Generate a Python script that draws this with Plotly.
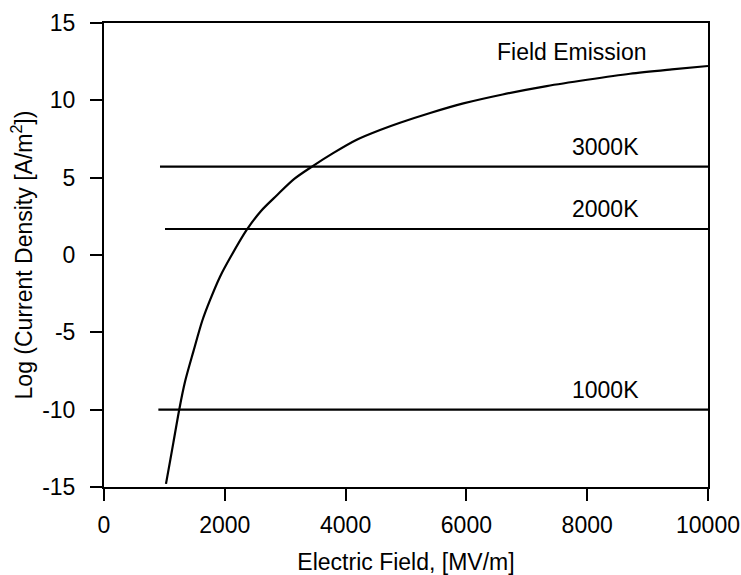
import plotly.graph_objects as go

# Field emission curve
fe_x = [1026, 1100, 1150, 1247, 1341, 1479, 1627, 1755, 1921, 2100, 2362, 2600, 2859, 3150, 3449,
        3800, 4184, 4570, 4901, 5400, 5949, 6600, 7329, 8000, 8709, 9400, 10000]
fe_y = [-14.8, -13.2, -12.1, -9.97, -8.2, -6.25, -4.25, -2.92, -1.4, -0.1, 1.62, 2.85, 3.85, 4.92, 5.73,
        6.6, 7.45, 8.08, 8.55, 9.18, 9.8, 10.38, 10.92, 11.33, 11.72, 12.0, 12.22]

# Thermionic emission levels
temps = ["3000K", "2000K", "1000K"]
t_start = [927, 1010, 900]
t_end = [10000, 10000, 10000]
t_level = [5.72, 1.68, -10.0]

x_ticks = [0, 2000, 4000, 6000, 8000, 10000]
y_ticks = [-15, -10, -5, 0, 5, 10, 15]
y_ticktext = ["-15", "-10", "-5", "0", "5", "10", "15"]

FONT = "Liberation Sans, Arial, sans-serif"
fig = go.Figure()
fig.add_trace(go.Scatter(x=fe_x, y=fe_y, mode="lines",
                         line=dict(color="black", width=2.2, shape="spline", smoothing=0.8),
                         showlegend=False, hoverinfo="skip"))
for name, xs, xe, lv in zip(temps, t_start, t_end, t_level):
    fig.add_trace(go.Scatter(x=[xs, xe], y=[lv, lv], mode="lines", line=dict(color="black", width=2.2),
                             showlegend=False, hoverinfo="skip"))
    fig.add_annotation(x=8300, y=lv, text=name, showarrow=False, yanchor="bottom", yshift=5,
                       font=dict(family=FONT, size=23, color="black"))

fig.add_annotation(x=7750, y=13.1, text="Field Emission", showarrow=False, yanchor="middle",
                   font=dict(family=FONT, size=23, color="black"))

axis_common = dict(showline=True, linecolor="black", linewidth=2, mirror=True, ticks="outside",
                   ticklen=12, tickwidth=2, tickcolor="black", showgrid=False, zeroline=False,
                   automargin=False, tickfont=dict(family=FONT, size=23, color="black"))
fig.update_xaxes(range=[0, 10000], tickvals=x_ticks, ticktext=[str(v) for v in x_ticks],
                 ticklabelstandoff=4,
                 title=dict(text="Electric Field, [MV/m]", font=dict(family=FONT, size=23, color="black"), standoff=17),
                 **axis_common)
fig.update_yaxes(range=[-15, 15], tickvals=y_ticks, ticktext=y_ticktext,
                 ticklabelstandoff=10,
                 title=dict(text="Log (Current Density [A/m<sup>2</sup>])", font=dict(family=FONT, size=23, color="black"), standoff=3),
                 **axis_common)
fig.update_layout(width=741, height=575, margin=dict(l=104, r=33, t=23, b=88),
                  plot_bgcolor="white", paper_bgcolor="white")
fig.write_html("out.html")
